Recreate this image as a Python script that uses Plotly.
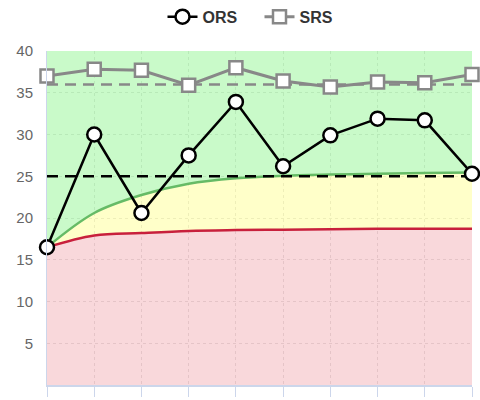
import plotly.graph_objects as go

x = list(range(10))
ors = [16.5, 30.0, 20.6, 27.5, 33.9, 26.2, 29.9, 31.9, 31.7, 25.3]
srs = [37.0, 37.8, 37.7, 35.9, 38.0, 36.4, 35.7, 36.3, 36.2, 37.2]
red_curve = [16.5, 17.9, 18.2, 18.45, 18.55, 18.6, 18.65, 18.7, 18.7, 18.7]
green_curve = [16.5, 20.6, 22.75, 24.1, 24.75, 25.05, 25.2, 25.3, 25.4, 25.45]
ceiling = [40] * 10
ors_cutoff = 25
srs_cutoff = 36
ytick_vals = [5, 10, 15, 20, 25, 30, 35, 40]

fig = go.Figure()
fig.add_trace(go.Scatter(x=x, y=red_curve, mode="lines", line=dict(color="#c8203c", width=2.5, shape="spline"),
                         fill="tozeroy", fillcolor="rgba(230,100,110,0.25)", showlegend=False, hoverinfo="skip"))
fig.add_trace(go.Scatter(x=x, y=green_curve, mode="lines", line=dict(color="#66bb66", width=2.5, shape="spline"),
                         fill="tonexty", fillcolor="rgba(255,255,100,0.35)", showlegend=False, hoverinfo="skip"))
fig.add_trace(go.Scatter(x=x, y=ceiling, mode="lines", line=dict(width=0),
                         fill="tonexty", fillcolor="rgba(100,240,100,0.35)", showlegend=False, hoverinfo="skip"))
fig.add_trace(go.Scatter(x=x, y=[ors_cutoff] * len(x), mode="lines", line=dict(color="black", width=2.5, dash="11px,7px"),
                         showlegend=False, hoverinfo="skip"))
fig.add_trace(go.Scatter(x=x, y=[srs_cutoff] * len(x), mode="lines", line=dict(color="#888888", width=2.5, dash="11px,7px"),
                         showlegend=False, hoverinfo="skip"))
fig.add_trace(go.Scatter(x=x, y=srs, name="SRS", mode="lines+markers", cliponaxis=False,
                         line=dict(color="#888888", width=3),
                         marker=dict(symbol="square", size=13, color="white", line=dict(color="#888888", width=2.5))))
fig.add_trace(go.Scatter(x=x, y=ors, name="ORS", mode="lines+markers", cliponaxis=False,
                         line=dict(color="black", width=2.5),
                         marker=dict(symbol="circle", size=14, color="white", line=dict(color="black", width=2.5))))

fig.update_layout(
    width=480, height=400,
    margin=dict(l=47, r=8, t=51, b=15, autoexpand=False),
    paper_bgcolor="white", plot_bgcolor="white",
    font=dict(family="Liberation Sans, Arial, sans-serif", size=15, color="#666666"),
    legend=dict(orientation="h", x=0.5, xanchor="center", y=0.958, yanchor="middle", yref="container",
                traceorder="reversed",
                font=dict(size=16, color="#333333", family="Liberation Sans, Arial, sans-serif", weight="bold"),
                itemwidth=30, entrywidth=52, entrywidthmode="pixels"),
    showlegend=True,
)
fig.update_xaxes(range=[0, 9], showticklabels=False, ticks="outside", ticklen=10, tickcolor="#ccd6eb",
                 tickvals=x, showgrid=True, gridcolor="rgba(170,170,170,0.3)", griddash="dot", gridwidth=1,
                 showline=True, linecolor="#ccd6eb", linewidth=2, zeroline=False)
fig.update_yaxes(range=[0, 40], tickvals=ytick_vals, showgrid=True, gridcolor="rgba(170,170,170,0.3)",
                 griddash="dot", gridwidth=1, showline=True, linecolor="#ccd6eb", linewidth=1,
                 zeroline=False, ticks="", ticklabelstandoff=10)

fig.write_html("out.html", config={"displayModeBar": False},
               post_script="document.body.style.margin='0';")
